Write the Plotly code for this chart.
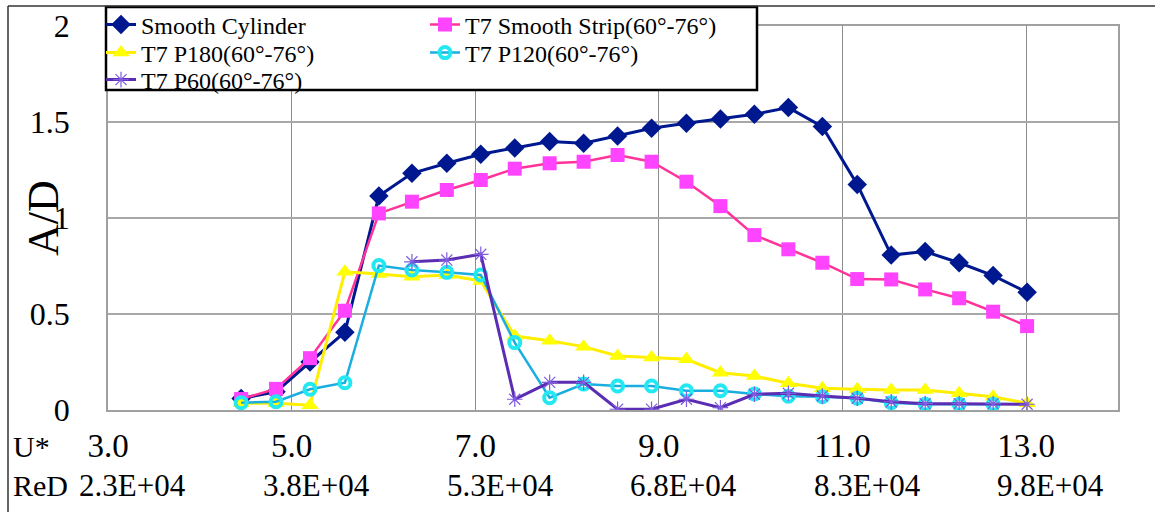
import plotly.graph_objects as go

# ---------------- data ----------------
u_star = [4.45, 4.83, 5.20, 5.58, 5.95, 6.31, 6.69, 7.06, 7.43, 7.81, 8.18, 8.55,
          8.92, 9.30, 9.67, 10.04, 10.41, 10.78, 11.16, 11.53, 11.90, 12.27, 12.64, 13.01]

smooth_cylinder = [0.06, 0.095, 0.25, 0.405, 1.115, 1.233, 1.285, 1.332, 1.365, 1.398, 1.389, 1.427,
                   1.467, 1.493, 1.516, 1.540, 1.575, 1.476, 1.175, 0.807, 0.825, 0.767, 0.700, 0.613]
smooth_strip = [0.057, 0.11, 0.27, 0.517, 1.024, 1.085, 1.146, 1.198, 1.257, 1.285, 1.293, 1.328,
                1.293, 1.189, 1.062, 0.911, 0.837, 0.767, 0.682, 0.680, 0.628, 0.582, 0.512, 0.437]
p180 = [0.035, 0.035, 0.025, 0.72, 0.708, 0.694, 0.703, 0.672, 0.385, 0.361, 0.33, 0.281,
        0.274, 0.264, 0.194, 0.177, 0.139, 0.113, 0.108, 0.104, 0.104, 0.087, 0.069, 0.035]
p120 = [0.038, 0.043, 0.108, 0.142, 0.752, 0.729, 0.717, 0.703, 0.351, 0.064, 0.135, 0.125,
        0.125, 0.10, 0.10, 0.083, 0.072, 0.069, 0.061, 0.038, 0.030, 0.030, 0.030]
p60_x = u_star[5:]
p60 = [0.772, 0.781, 0.811, 0.056, 0.144, 0.144, 0.004, 0.004, 0.056, 0.012, 0.082, 0.087,
       0.073, 0.061, 0.043, 0.033, 0.033, 0.033, 0.030]

x_ticks = [3, 5, 7, 9, 11, 13]
x_ticktext = ["3.0", "5.0", "7.0", "9.0", "11.0", "13.0"]
red_text = ["2.3E+04", "3.8E+04", "5.3E+04", "6.8E+04", "8.3E+04", "9.8E+04"]
y_ticks = [0, 0.5, 1, 1.5, 2]
y_ticktext = ["0", "0.5", "1", "1.5", "2"]

FONT = "Liberation Serif"

# plot area geometry (px)
W, H = 1155, 512
L, R, T, B = 108, 37, 26, 102
PW, PH = W - L - R, H - T - B


def px_x(p):
    return (p - L) / PW


def px_y(p):
    return (H - B - p) / PH


fig = go.Figure()

series = [
    dict(name="Smooth Cylinder", x=u_star, y=smooth_cylinder, line=dict(color="#00188F", width=3),
         marker=dict(symbol="diamond", size=15, color="#00188F"), legend="legend"),
    dict(name="T7 Smooth Strip(60°-76°)", x=u_star, y=smooth_strip, line=dict(color="#FF3399", width=2.5),
         marker=dict(symbol="square", size=14, color="#FF44FF"), legend="legend2"),
    dict(name="T7 P180(60°-76°)", x=u_star, y=p180, line=dict(color="#FFEE00", width=3),
         marker=dict(symbol="triangle-up", size=15, color="#FFFF00"), legend="legend3"),
    dict(name="T7 P120(60°-76°)", x=u_star[:len(p120)], y=p120, line=dict(color="#1AAEE0", width=2.5),
         marker=dict(symbol="circle-open", size=11, color="#22E8F2", line=dict(width=4, color="#22E8F2")),
         legend="legend4"),
    dict(name="T7 P60(60°-76°)", x=p60_x, y=p60, line=dict(color="#5B2DB3", width=3),
         marker=dict(symbol="asterisk-open", size=13, color="#7F5BE0", line=dict(width=1.2, color="#7F5BE0")),
         legend="legend5"),
]
for s in series:
    fig.add_trace(go.Scatter(mode="lines+markers", **s))

# legends: two columns, three rows
col_text = [143, 467]
row_c = [25, 53, 80]
pos = {
    "legend": (0, 0), "legend2": (1, 0), "legend3": (0, 1), "legend4": (1, 1), "legend5": (0, 2)
}
leg_layout = {}
for key, (c, r) in pos.items():
    leg_layout[key] = dict(
        x=px_x(col_text[c] - 42), xanchor="left",
        y=px_y(row_c[r]), yanchor="middle",
        bgcolor="rgba(0,0,0,0)", borderwidth=0,
        font=dict(family=FONT, size=24, color="#000000"),
    )

shapes = [
    # legend box
    dict(type="rect", xref="paper", yref="paper", x0=px_x(106), x1=px_x(757), y0=px_y(90), y1=px_y(7),
         line=dict(color="#000000", width=2.5), fillcolor="white", layer="above"),
    # outer frame (top & left)
    dict(type="line", xref="paper", yref="paper", x0=px_x(8), x1=px_x(1155), y0=px_y(6), y1=px_y(6),
         line=dict(color="#333333", width=1.5)),
    dict(type="line", xref="paper", yref="paper", x0=px_x(8), x1=px_x(8), y0=px_y(6), y1=px_y(512),
         line=dict(color="#333333", width=1.5)),
]

annotations = [
    dict(text="A/D", xref="paper", yref="paper", x=px_x(43), y=0.5, textangle=-90, showarrow=False,
         xanchor="center", yanchor="middle", font=dict(family=FONT, size=44, color="#000000")),
    dict(text="U*", xref="paper", yref="paper", x=px_x(11), y=px_y(446), showarrow=False,
         xanchor="left", yanchor="middle", font=dict(family=FONT, size=30, color="#000000")),
    dict(text="ReD", xref="paper", yref="paper", x=px_x(11), y=px_y(485), showarrow=False,
         xanchor="left", yanchor="middle", font=dict(family=FONT, size=30, color="#000000")),
]
for xv, t in zip(x_ticks, red_text):
    annotations.append(dict(text=t, xref="x", yref="paper", x=xv + 0.27, y=px_y(485), showarrow=False,
                            xanchor="center", yanchor="middle",
                            font=dict(family=FONT, size=31, color="#000000")))

fig.update_layout(
    width=W, height=H,
    margin=dict(l=L, r=R, t=T, b=B, autoexpand=False),
    paper_bgcolor="white", plot_bgcolor="white",
    font=dict(family=FONT, color="#000000"),
    showlegend=True,
    shapes=shapes, annotations=annotations,
    **leg_layout,
)
fig.update_xaxes(
    range=[3, 14], tickvals=x_ticks, ticktext=x_ticktext,
    showgrid=True, gridcolor="#8C8C8C", gridwidth=1,
    showline=True, linecolor="#A0A0A0", linewidth=1.5, mirror=True,
    ticks="", ticklabelstandoff=6, zeroline=False,
    tickfont=dict(family=FONT, size=33, color="#000000"),
)
fig.update_yaxes(
    range=[0, 2], tickvals=y_ticks, ticktext=y_ticktext,
    showgrid=True, gridcolor="#A8A8A8", gridwidth=1.5,
    showline=True, linecolor="#A0A0A0", linewidth=1.5, mirror=True,
    ticks="", ticklabelstandoff=30, zeroline=False,
    tickfont=dict(family=FONT, size=32, color="#000000"),
)

fig.write_html("out.html")
